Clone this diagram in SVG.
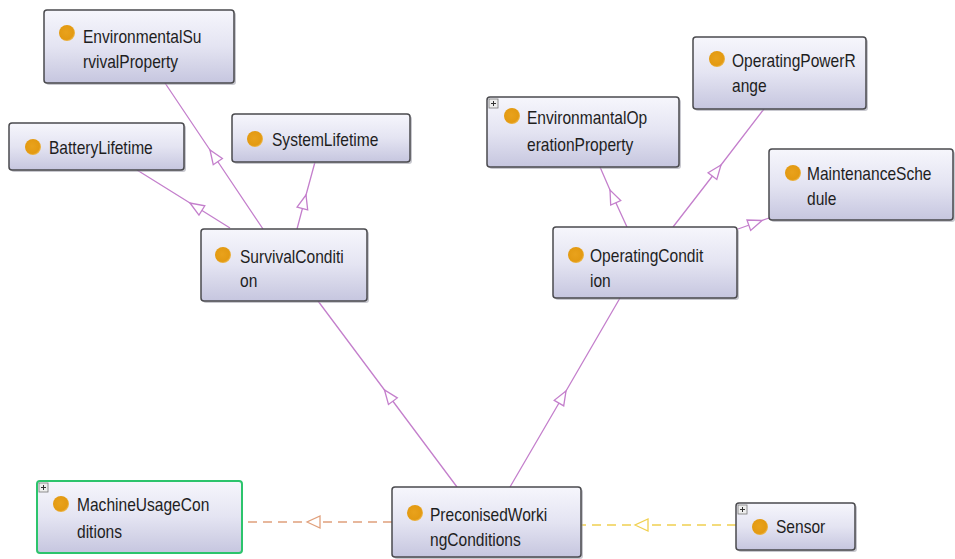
<svg xmlns="http://www.w3.org/2000/svg" width="955" height="559" viewBox="0 0 955 559">
<defs>
<linearGradient id="boxg" x1="0" y1="0" x2="0" y2="1">
<stop offset="0" stop-color="#f6f6fc"/>
<stop offset="0.5" stop-color="#e4e4f2"/>
<stop offset="1" stop-color="#c6c6df"/>
</linearGradient>
<radialGradient id="dotg" cx="0.45" cy="0.45" r="0.6">
<stop offset="0" stop-color="#e9a21c"/>
<stop offset="0.75" stop-color="#e39a12"/>
<stop offset="1" stop-color="#f2c66a"/>
</radialGradient>
<marker id="triP" markerUnits="userSpaceOnUse" orient="auto" viewBox="-16 -8 18 16" refX="0" refY="0" markerWidth="18" markerHeight="16">
<path d="M0,0 L-14,-5.5 L-14,5.5 Z" fill="#ffffff" stroke="#c47fcc" stroke-width="1.3"/>
</marker>
<marker id="triO" markerUnits="userSpaceOnUse" orient="auto" viewBox="-16 -8 18 16" refX="0" refY="0" markerWidth="18" markerHeight="16">
<path d="M0,0 L-13,-6 L-13,6 Z" fill="#ffffff" stroke="#e0a07c" stroke-width="1.3"/>
</marker>
<marker id="triY" markerUnits="userSpaceOnUse" orient="auto" viewBox="-16 -8 18 16" refX="0" refY="0" markerWidth="18" markerHeight="16">
<path d="M0,0 L-13,-6 L-13,6 Z" fill="#ffffff" stroke="#f0d050" stroke-width="1.3"/>
</marker>
</defs>
<style>
.sh{fill:#9a9aa8;opacity:0.55}
.box{fill:url(#boxg);stroke:#4a4a4e;stroke-width:1.5}
.boxg{fill:url(#boxg);stroke:#2cc46c;stroke-width:2}
.dot{fill:url(#dotg)}
.lbl{font-family:"Liberation Sans",Arial,sans-serif;font-size:18px;fill:#1e1e1e}
.sub{fill:none;stroke:#c47fcc;stroke-width:1.3;marker-mid:url(#triP)}
.dashO{fill:none;stroke:#e0a07c;stroke-width:1.6;stroke-dasharray:9 6;marker-mid:url(#triO)}
.dashY{fill:none;stroke:#f0d050;stroke-width:1.6;stroke-dasharray:9 6;marker-mid:url(#triY)}
.plus{fill:#eeeeee;stroke:#777;stroke-width:0.8}
.plusl{stroke:#333;stroke-width:1}
</style>
<rect width="955" height="559" fill="#ffffff"/>

<g id="connectors">
<polyline class="sub" points="263,229 210,150 165,83"/>
<polyline class="sub" points="230,228 190,203 137,170"/>
<polyline class="sub" points="297,229 306,195 315,162"/>
<polyline class="sub" points="457,487 384.5,390 318,301"/>
<polyline class="sub" points="510,487 566,391 620,298"/>
<polyline class="sub" points="627,227 610,190 600,167"/>
<polyline class="sub" points="673,227 721,165 764,109"/>
<polyline class="sub" points="738,229 762,220.5 769,218"/>
<polyline class="dashO" points="392,522 307,522 242,522"/>
<polyline class="dashY" points="736,525 635,525 581,525"/>
</g>

<g id="EnvironmentalSurvivalProperty">
<rect class="sh" x="46" y="12" width="190" height="73" rx="3"/>
<rect class="box" x="44" y="10" width="190" height="73" rx="3"/>
<circle class="dot" cx="67" cy="33" r="8"/>
<text class="lbl" transform="translate(83,43) scale(0.865,1)"><tspan x="0" y="0">EnvironmentalSu</tspan><tspan x="0" y="25">rvivalProperty</tspan></text>
</g>

<g id="BatteryLifetime">
<rect class="sh" x="11" y="125" width="175" height="47" rx="3"/>
<rect class="box" x="9" y="123" width="175" height="47" rx="3"/>
<circle class="dot" cx="33" cy="147" r="8"/>
<text class="lbl" transform="translate(49,154) scale(0.865,1)">BatteryLifetime</text>
</g>

<g id="SystemLifetime">
<rect class="sh" x="234" y="116" width="178" height="48" rx="3"/>
<rect class="box" x="232" y="114" width="178" height="48" rx="3"/>
<circle class="dot" cx="255" cy="139" r="8"/>
<text class="lbl" transform="translate(272,146) scale(0.865,1)">SystemLifetime</text>
</g>

<g id="SurvivalCondition">
<rect class="sh" x="203" y="231" width="166" height="72" rx="3"/>
<rect class="box" x="201" y="229" width="166" height="72" rx="3"/>
<circle class="dot" cx="223" cy="255" r="8"/>
<text class="lbl" transform="translate(240,263) scale(0.865,1)"><tspan x="0" y="0">SurvivalConditi</tspan><tspan x="0" y="24">on</tspan></text>
</g>

<g id="EnvironmantalOperationProperty">
<rect class="sh" x="489" y="99" width="192" height="70" rx="3"/>
<rect class="box" x="487" y="97" width="192" height="70" rx="3"/>
<rect class="plus" x="489" y="99" width="9" height="9"/>
<path class="plusl" d="M491,103.5 h5 M493.5,101 v5"/>
<circle class="dot" cx="512" cy="116" r="8"/>
<text class="lbl" transform="translate(527,124) scale(0.865,1)"><tspan x="0" y="0">EnvironmantalOp</tspan><tspan x="0" y="27">erationProperty</tspan></text>
</g>

<g id="OperatingPowerRange">
<rect class="sh" x="695" y="39" width="173" height="72" rx="3"/>
<rect class="box" x="693" y="37" width="173" height="72" rx="3"/>
<circle class="dot" cx="717" cy="59" r="8"/>
<text class="lbl" transform="translate(732,67) scale(0.865,1)"><tspan x="0" y="0">OperatingPowerR</tspan><tspan x="0" y="25">ange</tspan></text>
</g>

<g id="MaintenanceSchedule">
<rect class="sh" x="771" y="151" width="184" height="71" rx="3"/>
<rect class="box" x="769" y="149" width="184" height="71" rx="3"/>
<circle class="dot" cx="793" cy="173" r="8"/>
<text class="lbl" transform="translate(807,180) scale(0.865,1)"><tspan x="0" y="0">MaintenanceSche</tspan><tspan x="0" y="25">dule</tspan></text>
</g>

<g id="OperatingCondition">
<rect class="sh" x="555" y="229" width="184" height="71" rx="3"/>
<rect class="box" x="553" y="227" width="184" height="71" rx="3"/>
<circle class="dot" cx="576" cy="255" r="8"/>
<text class="lbl" transform="translate(590,262) scale(0.865,1)"><tspan x="0" y="0">OperatingCondit</tspan><tspan x="0" y="25">ion</tspan></text>
</g>

<g id="MachineUsageConditions">
<rect class="boxg" x="37" y="481" width="205" height="72" rx="3"/>
<rect class="plus" x="39" y="483" width="9" height="9"/>
<path class="plusl" d="M41,487.5 h5 M43.5,485 v5"/>
<circle class="dot" cx="61" cy="504" r="8"/>
<text class="lbl" transform="translate(77,511) scale(0.865,1)"><tspan x="0" y="0">MachineUsageCon</tspan><tspan x="0" y="27">ditions</tspan></text>
</g>

<g id="PreconisedWorkingConditions">
<rect class="sh" x="394" y="489" width="189" height="70" rx="3"/>
<rect class="box" x="392" y="487" width="189" height="70" rx="3"/>
<circle class="dot" cx="415" cy="513" r="8"/>
<text class="lbl" transform="translate(430,521) scale(0.865,1)"><tspan x="0" y="0">PreconisedWorki</tspan><tspan x="0" y="25">ngConditions</tspan></text>
</g>

<g id="Sensor">
<rect class="sh" x="738" y="505" width="119" height="47" rx="3"/>
<rect class="box" x="736" y="503" width="119" height="47" rx="3"/>
<rect class="plus" x="738" y="505" width="9" height="9"/>
<path class="plusl" d="M740,509.5 h5 M742.5,507 v5"/>
<circle class="dot" cx="760" cy="527" r="8"/>
<text class="lbl" transform="translate(776,533) scale(0.865,1)">Sensor</text>
</g>
</svg>
